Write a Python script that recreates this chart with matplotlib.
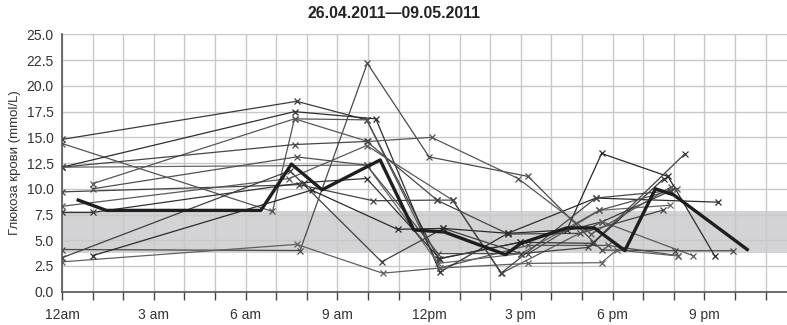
import matplotlib
matplotlib.use("Agg")
import matplotlib.pyplot as plt

plt.rcParams['font.family'] = ['Liberation Sans', 'DejaVu Sans']

# daily readings: hour of day and glucose (mmol/L)
day_hours = [
    [0.0, 7.67, 9.96, 12.3, 14.97, 17.66, 19.9],
    [0.0, 6.88, 7.6, 9.96, 12.35, 15.24, 17.85, 20.14],
    [0.0, 7.6, 10.26, 12.35, 14.59, 17.45, 21.45],
    [0.0, 9.96, 12.3, 15.0, 17.56, 19.87],
    [0.0, 7.75, 10.17, 12.25, 14.59, 16.93, 19.65],
    [0.0, 7.43, 9.96, 12.77, 14.37, 17.66, 20.63],
    [0.0, 1.0, 7.9, 9.96, 12.35, 14.97, 17.36, 19.68],
    [0.0, 7.78, 9.98, 12.0, 15.24, 17.64, 20.03, 21.94],
    [0.0, 7.67, 10.48, 12.35, 15.24, 17.64, 18.13, 20.14],
    [0.0, 7.45, 10.45, 12.47, 15.0, 17.2, 20.36],
    [1.0, 7.6, 10.0, 12.08, 14.91, 17.3, 19.92],
    [1.0, 8.16, 10.97, 12.47, 14.59, 16.5, 17.64, 19.81, 21.34],
    [1.0, 7.67, 9.96, 12.3, 15.24, 17.56, 20.1],
    [0.0, 7.6, 9.96, 12.26, 12.77, 14.35, 17.45, 19.87],
]
day_values = [
    [14.8, 18.5, 16.7, 3.2, 4.8, 6.8, 9.8],
    [14.4, 7.8, 16.8, 16.7, 2.3, 4.5, 4.5, 3.5],
    [12.1, 17.5, 16.8, 1.9, 5.7, 9.1, 8.7],
    [12.1, 12.3, 2.75, 3.7, 7.9, 8.4],
    [9.7, 10.4, 8.84, 8.9, 5.6, 5.67, 7.93],
    [8.3, 11.0, 14.2, 8.9, 1.8, 6.8, 3.5],
    [7.7, 7.7, 10.6, 11.0, 3.2, 4.8, 4.7, 11.0],
    [4.1, 4.0, 22.2, 13.1, 11.2, 4.05, 3.98, 3.98],
    [2.9, 4.6, 1.8, 2.3, 2.75, 2.82, 4.05, 3.47],
    [3.3, 11.75, 2.9, 6.15, 3.7, 4.3, 13.4],
    [10.5, 16.8, 14.6, 15.0, 11.0, 5.6, 10.2],
    [3.5, 9.87, 6.06, 6.15, 5.67, 6.0, 13.43, 11.2, 3.47],
    [10.0, 13.1, 12.3, 3.7, 3.7, 7.9, 10.0],
    [12.1, 14.3, 14.6, 8.9, 8.9, 1.8, 9.1, 9.8],
]
line_grays = ['#3a3a3a', '#555555', '#2e2e2e', '#666666', '#444444', '#5a5a5a', '#333333',
              '#4a4a4a', '#606060', '#3f3f3f', '#575757', '#2a2a2a', '#505050', '#464646']

# average curve
avg_hours = [0.53, 1.45, 6.5, 7.5, 8.5, 10.4, 11.5, 12.5, 14.5, 15.0, 16.5, 17.4, 18.4, 19.4, 20.0, 22.4]
avg_values = [8.9, 7.9, 7.9, 12.4, 9.9, 12.8, 6.0, 5.8, 3.6, 4.7, 6.2, 6.2, 4.0, 10.0, 9.4, 4.1]

target_low, target_high = 3.8, 7.8

tick_hours = [0, 3, 6, 9, 12, 15, 18, 21]
tick_labels = ['12am', '3 am', '6 am', '9 am', '12pm', '3 pm', '6 pm', '9 pm']

fig = plt.figure(figsize=(7.87, 3.25), dpi=100)
ax = fig.add_axes([0.0788, 0.1025, 0.9212, 0.7915])

ax.axhspan(target_low, target_high, color='#d3d3d5', zorder=0, lw=0)

for h, v, c in zip(day_hours, day_values, line_grays):
    ax.plot(h, v, color=c, lw=0.9, marker='x', markersize=5, markeredgewidth=0.9, zorder=2)

ax.plot(avg_hours, avg_values, color='#1e1e1e', lw=2.4, zorder=3)

ax.set_xlim(0, 23.7)
ax.set_ylim(0, 25)
ax.set_yticks([i * 2.5 for i in range(11)])
ax.set_yticklabels(['%.1f' % (i * 2.5) for i in range(11)])
ax.set_xticks(tick_hours)
ax.set_xticklabels(tick_labels)
ax.set_xticks(range(0, 24), minor=True)

ax.grid(True, which='both', color='#c8c8c8', lw=1.0, zorder=1)
ax.set_axisbelow(True)
ax.tick_params(axis='y', length=0, labelsize=10, colors='#333333', pad=6)
ax.tick_params(axis='x', which='both', length=6, width=1, color='#444444', labelsize=10,
               labelcolor='#333333', pad=6)

for s in ['top', 'right']:
    ax.spines[s].set_visible(False)
ax.spines['left'].set_color('#555555')
ax.spines['bottom'].set_color('#555555')
ax.spines['left'].set_linewidth(1.2)
ax.spines['bottom'].set_linewidth(1.2)

ax.set_ylabel('Глюкоза крови (mmol/L)', fontsize=9.5, color='#333333', labelpad=4)
fig.text(0.5, 0.957, '26.04.2011—09.05.2011', fontsize=11.4, fontweight='bold',
         color='#222222', ha='center', va='center')

fig.savefig('out.png', dpi=100)
